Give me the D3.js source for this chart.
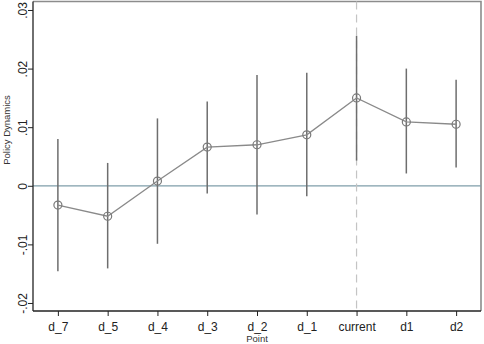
<!DOCTYPE html>
<html>
<head>
<meta charset="utf-8">
<script src="https://cdn.jsdelivr.net/npm/d3@7"></script>
<style>
  body { margin: 0; background: #fff; }
  text { font-family: "Liberation Sans", Arial, sans-serif; }
</style>
</head>
<body>
<svg id="chart" width="484" height="344"></svg>
<script>
// 数据：事件研究系数与置信区间
const points = ["d_7", "d_5", "d_4", "d_3", "d_2", "d_1", "current", "d1", "d2"];
const coef  = [-0.0033, -0.0052, 0.0008, 0.0066, 0.0070, 0.0087, 0.0150, 0.0109, 0.0105];
const lower = [-0.0146, -0.0141, -0.0099, -0.0013, -0.0049, -0.0018, 0.0043, 0.0021, 0.0031];
const upper = [0.0080, 0.0039, 0.0115, 0.0144, 0.0189, 0.0193, 0.0256, 0.0200, 0.0181];
const yTicks = [-0.02, -0.01, 0, 0.01, 0.02, 0.03];
const yTickLabels = ["-.02", "-.01", "0", ".01", ".02", ".03"];

const svg = d3.select("#chart");
const plotL = 33, plotR = 481, plotT = 1.5, plotB = 311;

const x = d3.scalePoint()
  .domain(points)
  .range([plotL, plotR])
  .padding(0.5);

const y = d3.scaleLinear()
  .domain([-0.02137, 0.03145])
  .range([plotB, plotT]);

const rows = points.map((p, i) => ({ p, c: coef[i], lo: lower[i], hi: upper[i] }));

// 外框（上、右为灰色）
svg.append("path")
  .attr("d", `M${plotL},${plotT}H${plotR}V${plotB}`)
  .attr("fill", "none")
  .attr("stroke", "#8c8c8c")
  .attr("stroke-width", 1.6);

// 零线
svg.append("line")
  .attr("x1", plotL).attr("x2", plotR)
  .attr("y1", y(0)).attr("y2", y(0))
  .attr("stroke", "#7f9eaa")
  .attr("stroke-width", 1.3);

// 当期竖虚线
svg.append("line")
  .attr("x1", x("current")).attr("x2", x("current"))
  .attr("y1", plotT).attr("y2", plotB)
  .attr("stroke", "#c4c4c4")
  .attr("stroke-width", 1.2)
  .attr("stroke-dasharray", "8,5");

// 置信区间
svg.append("g")
  .selectAll("line")
  .data(rows)
  .join("line")
    .attr("x1", d => x(d.p)).attr("x2", d => x(d.p))
    .attr("y1", d => y(d.lo)).attr("y2", d => y(d.hi))
    .attr("stroke", "#6e6e6e")
    .attr("stroke-width", 1.5);

// 系数连线
svg.append("path")
  .datum(rows)
  .attr("d", d3.line().x(d => x(d.p)).y(d => y(d.c)))
  .attr("fill", "none")
  .attr("stroke", "#8a8a8a")
  .attr("stroke-width", 1.3);

// 空心圆点
svg.append("g")
  .selectAll("circle")
  .data(rows)
  .join("circle")
    .attr("cx", d => x(d.p))
    .attr("cy", d => y(d.c))
    .attr("r", 4)
    .attr("fill", "none")
    .attr("stroke", "#7a7a7a")
    .attr("stroke-width", 1.2);

// Y 轴
const yAxis = svg.append("g")
  .attr("transform", `translate(${plotL},0)`)
  .call(d3.axisLeft(y).tickValues(yTicks).tickFormat((d, i) => yTickLabels[i]).tickSize(5).tickPadding(0));
yAxis.select(".domain").attr("stroke", "#222").attr("stroke-width", 1.3).attr("d", `M0,${plotT}V${plotB}`);
yAxis.selectAll(".tick line").attr("stroke", "#222");
yAxis.selectAll(".tick text")
  .attr("x", null).attr("dy", null)
  .attr("text-anchor", "middle")
  .attr("transform", "translate(-6,0) rotate(-90)")
  .attr("font-size", "12px")
  .attr("fill", "#222");

// X 轴
const xAxis = svg.append("g")
  .attr("transform", `translate(0,${plotB})`)
  .call(d3.axisBottom(x).tickSize(5).tickPadding(6));
xAxis.select(".domain").attr("stroke", "#222").attr("stroke-width", 1.3).attr("d", `M${plotL},0H${plotR}`);
xAxis.selectAll(".tick line").attr("stroke", "#222");
xAxis.selectAll(".tick text")
  .attr("font-size", "12px")
  .attr("fill", "#222");

// 轴标题
svg.append("text")
  .attr("x", x("d_2"))
  .attr("y", 342)
  .attr("text-anchor", "middle")
  .attr("font-size", "9.5px")
  .attr("fill", "#333")
  .text("Point");

svg.append("text")
  .attr("transform", "translate(10,130) rotate(-90)")
  .attr("text-anchor", "middle")
  .attr("font-size", "9.5px")
  .attr("fill", "#333")
  .text("Policy Dynamics");
</script>
</body>
</html>
